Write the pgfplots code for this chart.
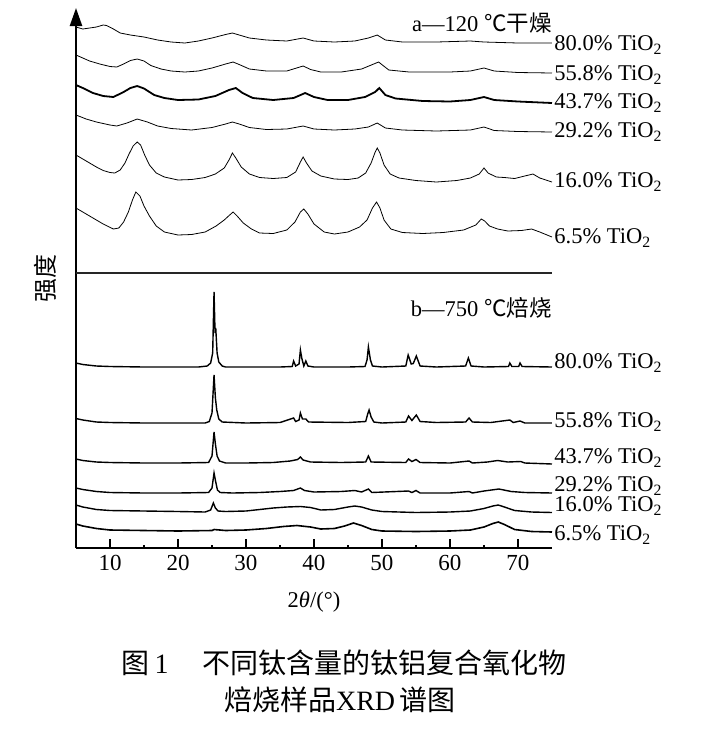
\documentclass[border=0pt]{standalone}
\usepackage{fontspec}
\setmainfont{Liberation Serif}
\newfontfamily\cjk{Noto Sans CJK SC}
\usepackage{pgfplots}
\pgfplotsset{compat=1.18}
\usetikzlibrary{arrows.meta}
\newcommand{\lbl}{\fontsize{11.25}{13}\selectfont}
\begin{document}
\begin{tikzpicture}
\useasboundingbox (0,0) rectangle (362.5pt,-365pt);
\begin{axis}[
  at={(38pt,-274pt)}, anchor=south west,
  scale only axis, width=238pt, height=270pt,
  xmin=5, xmax=75, ymin=0, ymax=540,
  axis x line=bottom, axis y line=left,
  axis line style={line width=1.2pt},
  x axis line style={-},
  y axis line style={-{Triangle[length=9pt,width=6pt]}},
  xtick={10,20,...,70}, minor xtick={15,25,...,65}, ytick=\empty,
  tick align=inside, major tick length=4.5pt, minor tick length=1.5pt,
  tick style={line width=0.9pt, black},
  /pgf/number format/assume math mode=true,
  xticklabel style={font=\fontsize{11.5}{13}\selectfont},
  xlabel={2\textit{θ}/(°)},
  xlabel style={font=\lbl, at={(axis description cs:0.5,0)}, anchor=center, yshift=-27pt},
  ylabel={\cjk 强度},
  ylabel style={font=\fontsize{12}{14}\selectfont, at={(axis description cs:0,0.5)}, anchor=center, yshift=15.5pt},
  clip=false,
  cycle list={{black, solid, line width=0.9pt, mark=none}},
]
% ---------- a: 120 C dried ----------
% 80.0%
\addplot coordinates {(5,521)(6,519)(7,520)(8,521)(9,523)(9.5,522.5)(10.5,519)(11.5,515)(13,513)(15,511)(17,508)(19,506)(21,505)(23,507)(25,510)(27,513.5)(28,515)(29,513)(30.5,510)(33,508)(36,507)(38.4,510)(40,507)(43,506)(46,507)(48,510)(49.3,513)(50.5,508)(53,506)(58,506)(63,507)(65,506)(70,505)(75,505)};
% 55.8%
\addplot coordinates {(5,493)(6,490)(7,487)(8.5,484)(10,481.5)(11,481)(12,484)(13,487.5)(14,489)(15,487)(16,482.5)(17.5,479)(19,477)(21,476)(23,477)(25,480)(27,484)(28.1,486)(29,483.5)(30.5,479)(33,477)(36,477)(38.4,482)(39.5,478.5)(41,476)(44,476)(47,479)(49.5,486)(51,478)(54,476)(60,476)(63,477)(65,480)(66.5,477)(70,475.5)(75,475)};
% 43.7%
\addplot coordinates {(5,463)(6,460)(7.5,455)(9,452)(10.5,451)(12,456)(13,460)(14,462)(15,459.5)(16.5,453)(18,450)(20,448)(23,448.5)(25.5,452)(27.5,458)(28.5,460)(29.5,455)(31,450)(34,448)(37,450)(38.7,455)(40,451)(42,448)(45,448)(47.5,451)(49,456)(49.6,460)(50.5,453)(52,449.5)(56,447)(60,446.5)(63,448)(65,451)(66.5,448)(70,446.5)(75,445)};
% 29.2%
\addplot coordinates {(5,433)(6.5,429)(8,426)(10,423)(11,422)(12.5,425)(14,429)(15.5,426)(17,422)(19,419.5)(22,418)(25,420.5)(27,424)(28,426)(29,424)(30.5,420.5)(33,418.5)(36,419)(38.4,422)(40,419)(43,418)(46,419)(48,421)(49.3,425)(50.5,420)(53,418)(58,417)(63,418)(65,421)(66.5,417.5)(70,416.5)(75,416)};
% 16.0%
\addplot coordinates {(5,393)(6,389)(7,385)(8,381)(9,377.5)(10,375.5)(10.7,375)(11.5,378)(12.2,385)(12.8,394)(13.4,402)(14,406)(14.5,403)(15.1,393)(15.8,383)(16.8,375)(18,371)(20,368)(22,368.5)(24,370.5)(25.5,374)(26.8,380)(27.5,388)(28,395)(28.5,390)(29.3,381)(30.5,374)(32,370.5)(34,369.5)(36,370.5)(37.3,376)(38,386)(38.4,391)(38.9,385)(39.7,377)(41,372)(43,369)(45,368.5)(46.5,370)(47.6,375)(48.4,385)(49,396)(49.3,400)(49.7,395)(50.3,383)(51.2,374)(52.5,370)(55,367.5)(58,366)(61,367.5)(63,370)(64.3,374)(65,380)(65.6,375)(66.8,371)(68,370.5)(69.5,369.5)(71,372)(72.2,374)(73.2,370)(75,366)};
% 6.5%
\addplot coordinates {(5,340)(6,336)(7.5,330)(9,324)(10.5,319)(11.3,320)(12,326)(12.7,336)(13.3,348)(13.8,356)(14.4,352)(15,342)(15.8,332)(16.8,322)(18,316)(20,313)(22,313.5)(24,316)(25.6,322)(26.8,328)(27.6,333)(28.1,336)(28.7,332)(29.6,325)(30.8,319)(32,315)(34,314.5)(36,318)(37.2,326)(38,336)(38.5,339)(39.1,334)(40,324)(41.5,316)(43,314)(45,316)(46.7,321)(47.8,328)(48.6,340)(49.2,346)(49.7,340)(50.3,328)(51.3,319)(53,315.5)(56,314.5)(59,315.5)(62,318)(63.8,323)(64.6,329)(65.1,327)(65.8,322)(67,319)(68.5,317)(70.5,317.5)(72,319)(73.2,316)(75,311)};
% ---------- b: 750 C calcined ----------
% 80.0%
\addplot[line width=0.7pt] coordinates {(5,185)(6,183.5)(8,182)(10,181.5)(15,181)(20,181)(23,181)(24.3,182)(24.8,185)(25.1,195)(25.3,256)(25.45,215)(25.55,220)(25.75,195)(26,186)(26.5,182)(27,181)(30,181)(35,181)(36.8,181.5)(37,187)(37.3,182)(37.8,184)(38,198)(38.2,190)(38.5,182)(38.8,187)(39.1,182)(40,181)(45,181)(47.5,181.5)(47.8,188)(48,201)(48.3,188)(48.6,182)(50,181)(53.5,182)(53.85,193)(54.3,184)(54.6,184.5)(55.05,192)(55.6,182)(58,181)(62.3,182)(62.7,190)(63.1,182)(65,181)(68.6,181.5)(68.8,185)(69.1,181.5)(70.1,181.5)(70.3,185)(70.6,181.5)(75,181)};
% 55.8%
\addplot[line width=0.7pt] coordinates {(5,129.5)(6,128)(8,126)(10,125.5)(15,125)(20,125)(24,125)(24.6,126.5)(25,135)(25.3,173)(25.5,150)(25.7,138)(26,129)(26.5,126)(30,125)(35,125.5)(37,130)(37.3,126.5)(37.8,128)(38,135)(38.3,129)(38.8,129)(39.2,126)(45,125.5)(47.6,126.5)(47.9,134)(48.1,138)(48.4,131)(48.8,126)(50,125)(53.5,126)(53.9,132)(54.4,127.5)(55.05,133)(55.6,126.5)(58,125.5)(62.3,126)(62.8,130)(63.3,126)(66,125.5)(68.8,128)(69.3,125.5)(70.3,127)(71,125)(75,125)};
% 43.7%
\addplot[line width=0.7pt] coordinates {(5,89)(6,87.5)(8,86)(10,85.5)(15,85)(20,85)(24.5,85.5)(25,92)(25.3,116)(25.5,104)(25.75,92)(26.1,87)(27,85)(30,85)(34,85.5)(36.5,87)(37.6,88.5)(38,91)(38.4,88)(39.5,86)(44,85.5)(47.6,86)(48,92)(48.4,86)(53.5,85.5)(53.9,89)(54.4,86.5)(55,88.5)(55.6,85.5)(60,85)(62.8,87)(63.3,85)(65.5,86)(67,87.5)(68.5,86)(70.4,86.5)(71,85)(75,84)};
% 29.2%
\addplot[line width=0.7pt] coordinates {(5,60)(6,58.5)(8,56.5)(10,55.5)(15,55)(20,55)(24.5,55.5)(25,60)(25.3,75)(25.55,66)(25.8,58)(26.2,55.5)(28,55)(32,55.5)(35,56.5)(37,57.5)(38,60)(38.6,57.5)(40,56)(44,56.5)(46,57.5)(47,56)(48,59)(48.5,55.5)(53.9,57)(54.4,55.5)(55,57.5)(55.6,55)(60,55)(62.8,56.5)(63.3,55)(65,57)(67.2,59)(69,56.5)(71,55.5)(75,55)};
% 16.0%
\addplot[line width=0.7pt] coordinates {(5,43)(6,41)(8,38.5)(10,37.5)(15,37)(20,36.5)(24,36)(24.8,38)(25.2,45)(25.5,40)(25.9,37)(27,36.5)(30,37)(32,38.5)(34,40)(36,41)(38,41.5)(39.5,40.5)(41,38)(43,38.5)(45,41)(46,42)(47,41)(48.5,38)(50,36.5)(55,35.5)(60,36)(63,37)(65,39.5)(66.3,42)(67.1,43)(68,41)(69.5,37.5)(72,36)(75,35.5)};
% 6.5%
\addplot[line width=0.8pt] coordinates {(5,24)(6,22)(8,19.5)(10,18)(15,17.5)(20,17)(25,17.5)(25.3,18.5)(27,17.5)(30,18)(33,19.5)(35.5,21.5)(37.5,22.5)(39.5,21)(41,19)(43,19.5)(44.5,22)(45.8,25)(47,22.5)(48.5,18.5)(50,17)(55,16.5)(60,17)(63,18)(65,21)(66.3,24.5)(67.1,26)(68,23.5)(69.5,18.5)(72,16.5)(75,16)};
% separator
\draw[line width=1pt, black!85] (axis cs:5,275) -- (axis cs:75,275);
% panel titles
\node[anchor=east, font=\lbl, inner sep=0pt] at (axis cs:75,525) {a—120 {\cjk ℃干燥}};
\node[anchor=east, font=\lbl, inner sep=0pt] at (axis cs:75,240) {b—750 {\cjk ℃焙烧}};
% series labels
\foreach \yy/\tt in {503/80.0, 473/55.8, 445/43.7, 416/29.2, 366/16.0, 310/6.5, 185/80.0, 126/55.8, 90/43.7, 62/29.2, 42/16.0, 13/6.5} {
  \edef\temp{\noexpand\node[anchor=west, font=\noexpand\lbl, inner sep=0pt, xshift=1pt] at (axis cs:75,\yy) {\tt\noexpand\% TiO\noexpand\textsubscript{2}};}
  \temp
}
\end{axis}
\node[font=\fontsize{14}{16}\selectfont] at (172pt,-331.5pt) {{\cjk 图}\,1\hspace{1.2em}{\cjk 不同钛含量的钛铝复合氧化物}};
\node[font=\fontsize{14}{16}\selectfont] at (170pt,-350pt) {{\cjk 焙烧样品}XRD\,{\cjk 谱图}};
\end{tikzpicture}
\end{document}
